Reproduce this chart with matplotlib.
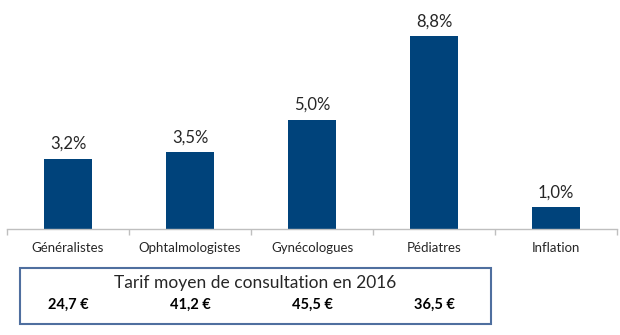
import matplotlib
matplotlib.use("Agg")
import matplotlib.pyplot as plt
from matplotlib.patches import Rectangle
from matplotlib.transforms import blended_transform_factory

plt.rcParams['font.family'] = ['Lato', 'DejaVu Sans']

categories = ["Généralistes", "Ophtalmologistes", "Gynécologues", "Pédiatres", "Inflation"]
growth_pct = [3.2, 3.5, 5.0, 8.8, 1.0]
tarifs_2016 = [24.7, 41.2, 45.5, 36.5]
box_title = "Tarif moyen de consultation en 2016"

BAR_COLOR = "#00437B"
TEXT_COLOR = "#262626"

W, H, DPI = 620, 335, 100
fig = plt.figure(figsize=(W / DPI, H / DPI), dpi=DPI)
fig.patch.set_facecolor("white")

# axes in pixel terms: left 7, right 617, baseline at y=229, top at y=10
ax = fig.add_axes([7 / W, (H - 229) / H, 610 / W, 219 / H])
x = list(range(len(categories)))
ax.bar(x, growth_pct, width=0.4, color=BAR_COLOR, zorder=2)
ax.set_xlim(-0.5, len(categories) - 0.5)
ax.set_ylim(0, 10)

for xi, v in zip(x, growth_pct):
    ax.annotate(f"{v:.1f}%".replace(".", ","), (xi, v), xytext=(0, 5),
                textcoords="offset points", ha="center", va="bottom",
                fontsize=12, color=TEXT_COLOR)

for side in ["top", "left", "right"]:
    ax.spines[side].set_visible(False)
ax.spines["bottom"].set_color("#BFBFBF")
ax.spines["bottom"].set_linewidth(1.0)
ax.set_yticks([])
ax.set_xticks(x)
ax.set_xticklabels(categories, fontsize=9.5, color=TEXT_COLOR)
ax.tick_params(axis="x", which="major", length=0, pad=9)
ax.set_xticks([i - 0.5 for i in range(len(categories) + 1)], minor=True)
ax.tick_params(axis="x", which="minor", length=4, width=1.0, color="#BFBFBF",
               direction="out")

# box of average consultation fees
box = Rectangle((20 / W, (H - 324) / H), 471 / W, 56 / H, transform=fig.transFigure,
                fill=False, edgecolor="#4F6F9F", linewidth=1.5)
fig.patches.append(box)
fig.text(255.5 / W, (H - 283) / H, box_title, ha="center", va="center",
         fontsize=12.5, color=TEXT_COLOR)
trans = blended_transform_factory(ax.transData, fig.transFigure)
for xi, t in zip(x, tarifs_2016):
    ax.text(xi, (H - 305) / H, f"{t:.1f} €".replace(".", ","), transform=trans,
            ha="center", va="center", fontsize=10.5, fontweight="bold",
            color="black", clip_on=False)

fig.savefig("out.png", dpi=DPI, facecolor="white")
